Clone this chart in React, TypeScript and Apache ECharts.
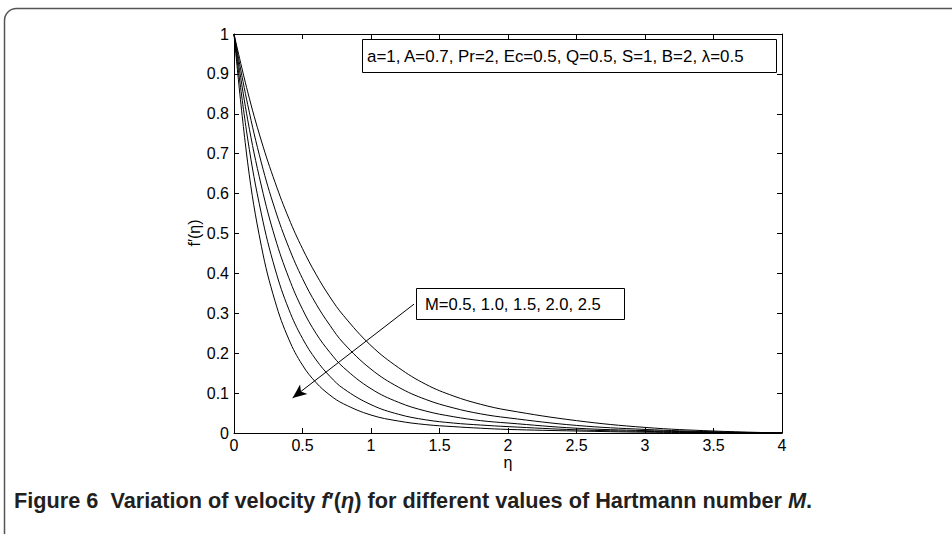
import React, { useEffect, useRef } from "react";
import * as echarts from "echarts";

// eta positions (x axis) where the curves were read
const etaValues = [0, 0.1, 0.2, 0.3, 0.4, 0.5, 0.6, 0.7, 0.8, 1.0, 1.2, 1.4, 1.6, 1.8, 2.0, 2.5, 3.0, 3.5, 4.0];
// f'(eta) for the five Hartmann numbers
const fM05 = [1, 0.855, 0.732, 0.628, 0.538, 0.462, 0.397, 0.341, 0.294, 0.219, 0.164, 0.122, 0.093, 0.072, 0.057, 0.031, 0.014, 0.005, 0];
const fM10 = [1, 0.823, 0.677, 0.56, 0.465, 0.387, 0.323, 0.27, 0.225, 0.16, 0.115, 0.084, 0.063, 0.048, 0.038, 0.019, 0.009, 0.003, 0];
const fM15 = [1, 0.785, 0.619, 0.489, 0.389, 0.31, 0.249, 0.202, 0.164, 0.111, 0.077, 0.055, 0.041, 0.031, 0.025, 0.012, 0.006, 0.002, 0];
const fM20 = [1, 0.737, 0.549, 0.411, 0.31, 0.237, 0.183, 0.142, 0.111, 0.071, 0.047, 0.033, 0.025, 0.02, 0.016, 0.008, 0.004, 0.0015, 0];
const fM25 = [1, 0.677, 0.468, 0.33, 0.235, 0.17, 0.126, 0.095, 0.073, 0.045, 0.03, 0.021, 0.016, 0.012, 0.009, 0.005, 0.002, 0.001, 0];
const seriesNames = ["M=0.5", "M=1.0", "M=1.5", "M=2.0", "M=2.5"];
const seriesValues = [fM05, fM10, fM15, fM20, fM25];

const xMin = 0, xMax = 4, xInterval = 0.5;
const yMin = 0, yMax = 1, yInterval = 0.1;

const paramText = "a=1, A=0.7, Pr=2, Ec=0.5, Q=0.5, S=1, B=2, λ=0.5";
const mText = "M=0.5, 1.0, 1.5, 2.0, 2.5";
const arrowStart = [1.314, 0.323];
const arrowEnd = [0.428, 0.088];
const xName = "η";
const yName = "f′(η)";

const FONT = "'Liberation Sans', Arial, Helvetica, sans-serif";

export default function App() {
  const ref = useRef<HTMLDivElement>(null);
  useEffect(() => {
    if (!ref.current) return;
    const chart = echarts.init(ref.current, null, { renderer: "svg" });
    const axisCommon = {
      type: "value",
      axisLine: { show: true, onZero: false, lineStyle: { color: "#000", width: 1 } },
      axisTick: { show: true, inside: true, length: 5, lineStyle: { color: "#000" } },
      splitLine: { show: false },
    };
    const series: any[] = seriesValues.map((vals, i) => ({
      name: seriesNames[i],
      type: "line",
      data: etaValues.map((x, j) => [x, vals[j]]),
      showSymbol: false,
      smooth: 0.4,
      lineStyle: { color: "#000", width: 1 },
      silent: true,
    }));
    series[0].markLine = {
      silent: true,
      symbol: ["none", "arrow"],
      symbolSize: [9, 14],
      lineStyle: { color: "#000", width: 1, type: "solid" },
      label: { show: false },
      data: [[{ coord: arrowStart }, { coord: arrowEnd }]],
    };
    chart.setOption({
      animation: false,
      backgroundColor: "#fff",
      grid: { left: 234, right: 170, top: 34, bottom: 101, containLabel: false },
      xAxis: [
        {
          ...axisCommon,
          min: xMin, max: xMax, interval: xInterval,
          position: "bottom",
          axisLabel: { color: "#000", fontSize: 16, fontFamily: FONT, margin: 4 },
        },
        {
          ...axisCommon,
          min: xMin, max: xMax, interval: xInterval,
          position: "top",
          axisLabel: { show: false },
        },
      ],
      yAxis: [
        {
          ...axisCommon,
          min: yMin, max: yMax, interval: yInterval,
          position: "left",
          axisLabel: { color: "#000", fontSize: 16, fontFamily: FONT, margin: 5 },
        },
        {
          ...axisCommon,
          min: yMin, max: yMax, interval: yInterval,
          position: "right",
          axisLabel: { show: false },
        },
      ],
      series,
      graphic: [
        {
          type: "rect",
          shape: { x: 4.5, y: 8.5, width: 1000, height: 600, r: 12 },
          style: { fill: "none", stroke: "#555", lineWidth: 1.5 },
          silent: true,
        },
        {
          type: "rect",
          shape: { x: 362.5, y: 39.5, width: 414, height: 33 },
          style: { fill: "#fff", stroke: "#000", lineWidth: 1 },
          z: 100,
        },
        {
          type: "text",
          x: 367, y: 56.5,
          style: { text: paramText, font: `16.9px ${FONT}`, fill: "#000", textVerticalAlign: "middle" },
          z: 101,
        },
        {
          type: "rect",
          shape: { x: 416.5, y: 288.5, width: 208, height: 31 },
          style: { fill: "#fff", stroke: "#000", lineWidth: 1 },
          z: 100,
        },
        {
          type: "text",
          x: 425, y: 304.5,
          style: { text: mText, font: `16.6px ${FONT}`, fill: "#000", textVerticalAlign: "middle" },
          z: 101,
        },
        {
          type: "text",
          x: 508, y: 462,
          style: { text: xName, font: `16px ${FONT}`, fill: "#000", textAlign: "center", textVerticalAlign: "middle" },
        },
        {
          type: "text",
          x: 194, y: 233,
          rotation: Math.PI / 2,
          style: { text: yName, font: `16px ${FONT}`, fill: "#000", textAlign: "center", textVerticalAlign: "middle" },
        },
        {
          type: "text",
          x: 14, y: 500,
          style: {
            text: "{a|Figure 6  Variation of velocity }{i|f}{a|′(}{i|η}{a|) for different values of Hartmann number }{i|M}{a|.}",
            textVerticalAlign: "middle",
            rich: {
              a: { fontFamily: FONT, fontWeight: "bold", fontSize: 21.7, fill: "#231f20" },
              i: { fontFamily: FONT, fontWeight: "bold", fontStyle: "italic", fontSize: 21.7, fill: "#231f20" },
            },
          },
        },
      ],
    });
    return () => chart.dispose();
  }, []);
  return (
    <div
      ref={ref}
      style={{ position: "absolute", left: 0, top: 0, width: 952, height: 534, background: "#fff" }}
    />
  );
}
